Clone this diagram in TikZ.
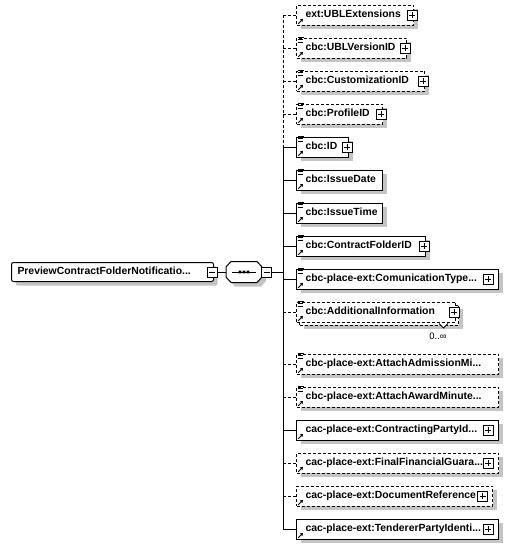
\documentclass[tikz,border=0pt]{standalone}
\usepackage{fontspec}
\setmainfont{Liberation Sans}
\usetikzlibrary{shadows,arrows.meta}
\definecolor{shadowgray}{HTML}{C4C4C4}
\newcommand\elemfont{\fontsize{10.4}{12}\selectfont\bfseries}
\newcommand\xel[5]{%
  \node[box,#4,minimum width=#3pt] (#1) at (296,#2) {};
  \node[lbl] (#1t) at ([xshift=9pt]#1.west) {#5};}
\newcommand\linesicon[1]{%
  \draw[line width=0.8pt] ([xshift=1.5pt]#1.north west) -- ++(6,0)
    ([xshift=1.5pt,yshift=-2.3pt]#1.north west) -- ++(5,0)
    ([xshift=1.5pt,yshift=-4.6pt]#1.north west) -- ++(5,0);}
\newcommand\arricon[1]{%
  \draw[line width=0.9pt,-{Triangle[length=2.6pt,width=3.4pt]}] ([xshift=2.2pt,yshift=1.8pt]#1.south west) -- ++(4.8,-4.8);}
\begin{document}
\begin{tikzpicture}[x=1pt,y=-1pt,line width=1pt,
  shad/.style={general shadow={fill=shadowgray,shadow xshift=4pt,shadow yshift=-4pt}},
  box/.style={draw,fill=white,inner sep=0pt,minimum height=20pt,anchor=west,shad},
  opt/.style={dash pattern=on 3pt off 2pt},
  lbl/.style={anchor=west,inner sep=0pt,font=\elemfont,text height=7.6pt,text depth=2pt},
  sbox/.style={draw,fill=white,minimum size=10pt,inner sep=0pt,solid},
  plusbox/.style={sbox,path picture={
    \draw[line width=0.9pt] ([xshift=2pt]path picture bounding box.west) -- ([xshift=-2pt]path picture bounding box.east);
    \draw[line width=0.9pt] ([yshift=-2pt]path picture bounding box.north) -- ([yshift=2pt]path picture bounding box.south);}},
  minusbox/.style={sbox,path picture={
    \draw[line width=0.9pt] ([xshift=2pt]path picture bounding box.west) -- ([xshift=-2pt]path picture bounding box.east);}}
]
\useasboundingbox (0,0) rectangle (512,549);

% root element
\node[draw,fill=white,shad,rounded corners=2pt,minimum width=202pt,minimum height=19pt,inner sep=0pt,anchor=west] (root) at (11,272) {};
\node[lbl] (roott) at ([xshift=6pt]root.west) {PreviewContractFolderNotificatio...};
\node[minusbox] (rootm) at (212,272) {};

% sequence compositor
\node[minimum width=36pt,minimum height=21pt,inner sep=0pt] (seq) at (244,272) {};
\fill[shadowgray,shift={(4,4)}] (226,267) -- (231,261.5) -- (257,261.5) -- (262,267) -- (262,277) -- (257,282.5) -- (231,282.5) -- (226,277) -- cycle;
\draw[fill=white] (226,267) -- (231,261.5) -- (257,261.5) -- (262,267) -- (262,277) -- (257,282.5) -- (231,282.5) -- (226,277) -- cycle;
\draw (232,272) -- (256,272);
\fill (238.7,270.7) rectangle ++(2.6,2.6) (242.7,270.7) rectangle ++(2.6,2.6) (246.7,270.7) rectangle ++(2.6,2.6);
\node[minusbox] (seqm) at (266.5,272) {};
\draw (rootm) -- (seq);
\coordinate (tj) at (283,272);
\draw (seqm) -- (tj);

% trunk coordinates
\foreach \i/\y in {1/15,2/48,3/81,4/114,5/147,6/180,7/213,8/246,9/279,10/312,11/364,12/397,13/430,14/463,15/496,16/529}
  {\coordinate (t\i) at (283,\y);}
\draw[opt] (t1) -- (t5);
\draw (t5) -- (t16);

% children
\xel{n1}{15}{117}{opt}{ext:UBLExtensions}
\xel{n2}{48}{110}{opt}{cbc:UBLVersionID}
\xel{n3}{81}{128}{opt}{cbc:CustomizationID}
\xel{n4}{114}{86}{opt}{cbc:ProfileID}
\xel{n5}{147}{52}{}{cbc:ID}
\xel{n6}{180}{86}{}{cbc:IssueDate}
\xel{n7}{213}{86}{}{cbc:IssueTime}
\xel{n8}{246}{129}{}{cbc:ContractFolderID}
\xel{n9}{279}{202}{}{cbc-place-ext:ComunicationType...}
% multiple occurrence element
\node[box,opt,minimum width=159pt] (n10b) at (299,315) {};
\node[draw,fill=white,inner sep=0pt,minimum height=20pt,anchor=west,opt,minimum width=159pt] (n10) at (296,312) {};
\node[lbl] (n10t) at ([xshift=9pt]n10.west) {cbc:AdditionalInformation};
\draw[fill=white,solid,line width=0.8pt] (439,323.5) -- (443.5,328) -- (448,323.5);
\node[font=\fontsize{9.5}{11}\selectfont,inner sep=0pt] (n10m) at (438,336) {0..∞};
\xel{n11}{364}{202}{opt}{cbc-place-ext:AttachAdmissionMi...}
\xel{n12}{397}{202}{opt}{cbc-place-ext:AttachAwardMinute...}
\xel{n13}{430}{202}{}{cac-place-ext:ContractingPartyId...}
\xel{n14}{463}{202}{opt}{cac-place-ext:FinalFinancialGuara...}
\xel{n15}{496}{196}{opt}{cac-place-ext:DocumentReference}
\xel{n16}{529}{202}{}{cac-place-ext:TendererPartyIdenti...}

% icons
\foreach \n in {n2,n3,n4,n5,n6,n7,n8,n9,n10,n11,n12} {\linesicon{\n}}
\foreach \n in {n1,n2,n3,n4,n5,n6,n7,n8,n9,n10,n11,n12,n13,n14,n15,n16} {\arricon{\n}}

% expand boxes
\node[plusbox] (n1p) at (412,15) {};
\node[plusbox] (n2p) at (405,48) {};
\node[plusbox] (n3p) at (423,81) {};
\node[plusbox] (n4p) at (381,114) {};
\node[plusbox] (n5p) at (347,147) {};
\node[plusbox] (n8p) at (424,246) {};
\node[plusbox] (n9p) at (488,279) {};
\node[plusbox] (n10p) at (454,312) {};
\node[plusbox] (n13p) at (488,430) {};
\node[plusbox] (n14p) at (488,463) {};
\node[plusbox] (n15p) at (482.5,496) {};
\node[plusbox] (n16p) at (488,529) {};

% branches
\foreach \i in {1,2,3,4,10,11,12,14,15} {\draw[opt] (t\i) -- (n\i);}
\foreach \i in {5,6,7,8,9,13,16} {\draw (t\i) -- (n\i);}
\end{tikzpicture}
\end{document}
